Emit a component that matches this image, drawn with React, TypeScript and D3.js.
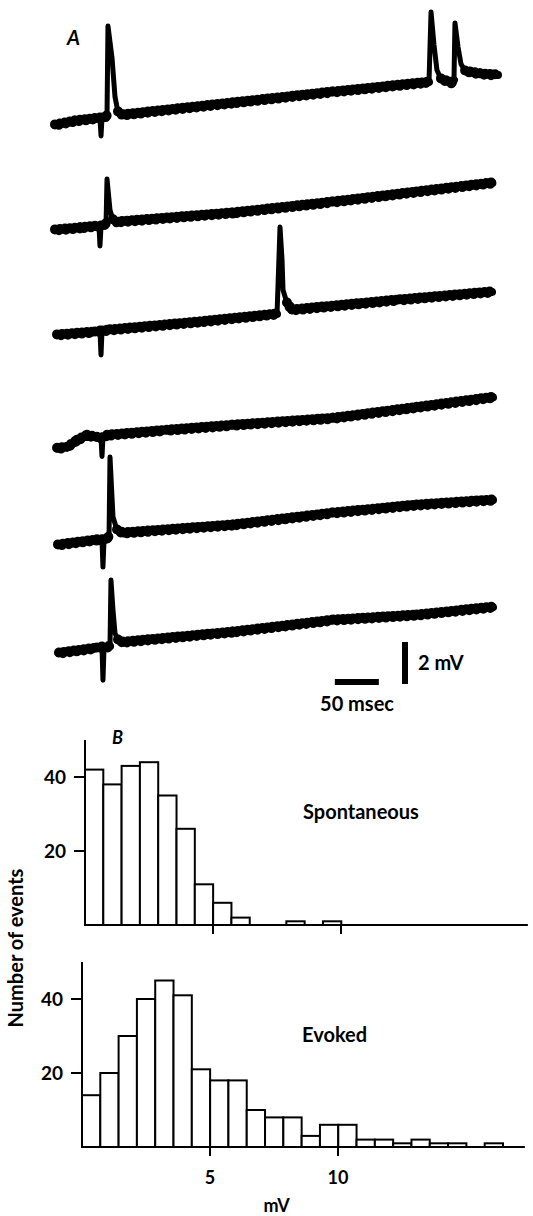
import React from 'react';
import * as d3 from 'd3';

// sweeps in panel A: [time (msec), mV relative to the start of the sweep]
const sweep1 = [[0, 0], [22.7, 0.19], [51.1, 0.33], [52.3, -0.52], [53.4, 0.33], [59.1, 0.43], [60.2, 4.71], [64.8, 3.19], [68.2, 1.33], [71.6, 0.62], [77.3, 0.48], [202, 1.05], [316, 1.57], [417, 2.0], [425, 2.05], [427.3, 5.38], [430.7, 3.81], [434, 2.62], [438.6, 2.19], [451, 2.0], [453.4, 2.14], [454.5, 4.86], [458, 3.71], [461.4, 2.9], [466, 2.57], [483, 2.43], [503.4, 2.38]];
const sweep2 = [[0, 0], [28.4, 0.1], [50, 0.19], [51.1, -0.76], [52.3, 0.19], [58, 0.29], [59.1, 2.43], [62.5, 0.95], [65.9, 0.48], [70.5, 0.38], [202, 0.81], [316, 1.33], [411, 1.81], [497, 2.24]];
const sweep3 = [[2.3, 0], [45.5, 0.14], [51.1, 0.19], [52.3, -0.95], [53.4, 0.19], [62.5, 0.24], [164.8, 0.62], [252.3, 1.0], [255.7, 5.14], [258, 3.57], [259.1, 2.14], [263.6, 1.52], [269.3, 1.19], [392, 1.67], [496.6, 2.05]];
const sweep4 = [[2.3, 0], [13.6, 0.05], [25, 0.38], [36.4, 0.62], [47.7, 0.52], [52.3, 0.5], [53.4, -0.38], [54.5, 0.52], [59.1, 0.62], [127, 0.86], [202, 1.1], [316, 1.43], [411, 1.95], [497.7, 2.43]];
const sweep5 = [[3.4, 0], [47.7, 0.24], [53.4, 0.24], [54.5, -1.05], [55.7, 0.24], [61.4, 0.38], [62.5, 4.19], [65.9, 1.33], [70.5, 0.71], [77.3, 0.57], [202, 0.95], [316, 1.52], [411, 1.9], [497.7, 2.14]];
const sweep6 = [[4.5, 0], [47.7, 0.24], [53.4, 0.29], [54.5, -1.29], [55.7, 0.24], [62.5, 0.33], [63.6, 3.48], [65.9, 2.05], [68.2, 0.95], [71.6, 0.62], [77.3, 0.52], [202, 1.0], [316, 1.57], [411, 1.81], [497.7, 2.19]];
const sweeps = [sweep1, sweep2, sweep3, sweep4, sweep5, sweep6];
// vertical stacking of the sweeps (mV)
const sweepOffsets = [0, -5, -10, -15.4, -20, -25.15];

// panel B: number of events per amplitude bin
const binWidth = 0.715; // mV
const spontaneousCounts = [42, 38, 43, 44, 35, 26, 11, 6, 2, 0, 0, 1, 0, 1];
const evokedCounts = [14, 20, 30, 40, 45, 41, 21, 18, 18, 10, 8, 8, 3, 6, 6, 2, 2, 1, 2, 1, 1, 0, 1, 0];
const yTicks = [20, 40];
const xTicks = [5, 10];

const font = "Lato, 'Open Sans', sans-serif";

function Histogram({ counts, left, zero, label, labelX, labelY, tickLabels }) {
  const x = d3.scaleLinear().domain([0, 17.3]).range([left, left + 17.3 * 25.6]);
  const y = d3.scaleLinear().domain([0, 50]).range([zero, zero - 185]);
  return (
    <g>
      {counts.map((c, i) => (
        <rect key={i} x={x(i * binWidth)} y={y(c)} width={x(binWidth) - x(0)} height={y(0) - y(c)}
          fill="#fff" stroke="#000" strokeWidth={2} />
      ))}
      <line x1={x(0)} x2={x(0)} y1={y(50)} y2={y(0)} stroke="#000" strokeWidth={2} />
      <line x1={x(0)} x2={x(17.3)} y1={y(0)} y2={y(0)} stroke="#000" strokeWidth={2.2} />
      {yTicks.map(tk => (
        <g key={tk}>
          <line x1={x(0) - 11} x2={x(0)} y1={y(tk)} y2={y(tk)} stroke="#000" strokeWidth={2} />
          <text x={x(0) - 19} y={y(tk)} dy="0.36em" textAnchor="end" fontSize={19} fontWeight={700} fontFamily={font}>{tk}</text>
        </g>
      ))}
      {xTicks.map(tk => (
        <g key={tk}>
          <line x1={x(tk)} x2={x(tk)} y1={y(0)} y2={y(0) + 9} stroke="#000" strokeWidth={2} />
          {tickLabels && <text x={x(tk)} y={y(0) + 37} textAnchor="middle" fontSize={18} fontWeight={700} fontFamily={font}>{tk}</text>}
        </g>
      ))}
      {tickLabels && <text x={x(7.6)} y={y(0) + 65} textAnchor="middle" fontSize={18} fontWeight={700} fontFamily={font}>mV</text>}
      <text x={labelX} y={labelY} fontSize={20} fontWeight={700} fontFamily={font}>{label}</text>
    </g>
  );
}

export default function App() {
  const t = d3.scaleLinear().domain([0, 500]).range([55, 495]);
  const v = d3.scaleLinear().domain([0, -26]).range([125, 125 + 26 * 21]);

  return (
    <svg width={533} height={1216} style={{ position: 'absolute', left: 0, top: 0, background: '#fff' }}>
      <text x={67} y={45} fontSize={20} fontWeight={700} fontStyle="italic" fontFamily={font}>A</text>
      {sweeps.map((s, i) => {
        const px = s.map(d => [t(d[0]), v(d[1] + sweepOffsets[i])]);
        const d = d3.line()(px);
        // flat stretches carry the thick, noisy record; fast transients are thinner
        const flat = d3.pairs(px).filter(([a, b]) => Math.abs(b[1] - a[1]) < 1.5 * Math.abs(b[0] - a[0]));
        const fd = flat.map(seg => d3.line()(seg)).join('');
        return (
          <g key={i}>
            <path d={d} fill="none" stroke="#000" strokeWidth={5} strokeLinejoin="round" strokeLinecap="round" />
            <path d={fd} fill="none" stroke="#000" strokeWidth={8} strokeLinecap="round" />
            <path d={fd} fill="none" stroke="#000" strokeWidth={10} strokeDasharray="0 5" strokeLinecap="round" transform="translate(0,-0.6)" />
            <path d={fd} fill="none" stroke="#000" strokeWidth={9.5} strokeDasharray="0 7" strokeDashoffset={3} strokeLinecap="round" transform="translate(0,0.8)" />
          </g>
        );
      })}

      {/* scale bars */}
      <line x1={t(318)} x2={t(368)} y1={682} y2={682} stroke="#000" strokeWidth={6} />
      <text x={357} y={711} textAnchor="middle" fontSize={20} fontWeight={700} fontFamily={font}>50 msec</text>
      <line x1={405} x2={405} y1={684} y2={684 - (v(0) - v(2))} stroke="#000" strokeWidth={6} />
      <text x={418} y={670} fontSize={20} fontWeight={700} fontFamily={font}>2 mV</text>

      <text x={112} y={744} fontSize={18} fontWeight={700} fontStyle="italic" fontFamily={font}>B</text>
      <Histogram counts={spontaneousCounts} left={85} zero={925} label="Spontaneous" labelX={303} labelY={819} tickLabels={false} />
      <Histogram counts={evokedCounts} left={82} zero={1147} label="Evoked" labelX={302} labelY={1042} tickLabels={true} />
      <text transform="translate(23,948) rotate(-90)" textAnchor="middle" fontSize={20} fontWeight={700} fontFamily={font}>Number of events</text>
    </svg>
  );
}
